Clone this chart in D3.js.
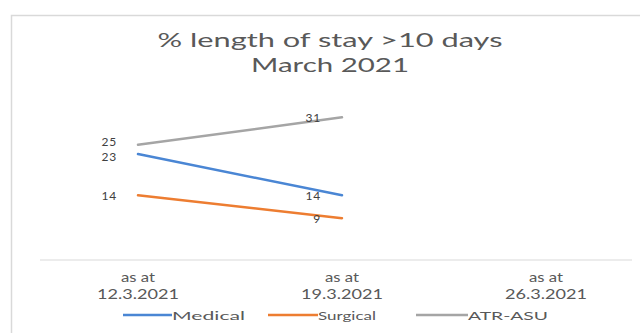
<!DOCTYPE html>
<html>
<head>
<meta charset="utf-8">
<script src="https://cdn.jsdelivr.net/npm/d3@7"></script>
<style>
  html, body { margin: 0; padding: 0; background: #fff; }
  svg { display: block; }
  text { font-family: Lato, "Open Sans", "DejaVu Sans", sans-serif; }
</style>
</head>
<body>
<svg id="chart" width="640" height="333"></svg>
<script>
// Weekly snapshots of % of patients with length of stay over 10 days
const categories = ["as at|12.3.2021", "as at|19.3.2021", "as at|26.3.2021"];
const medical  = [23, 14, null];
const surgical = [14, 9, null];
const atrAsu   = [25, 31, null];
const seriesNames  = ["Medical", "Surgical", "ATR-ASU"];
const seriesColors = ["#4a86d4", "#ed7d31", "#a5a5a5"];
const titleLines = ["% length of stay >10 days", "March 2021"];

const series = [medical, surgical, atrAsu].map((values, i) => ({
  name: seriesNames[i], color: seriesColors[i], values
}));

const svg = d3.select("#chart");
const W = 640, H = 333;

// chart frame
svg.append("rect")
  .attr("x", 11.5).attr("y", 15.5)
  .attr("width", W + 10).attr("height", H + 10)
  .attr("fill", "#fff").attr("stroke", "#d9d9d9").attr("stroke-width", 1.5);

// title
const title = svg.append("g");
title.append("text")
  .attr("x", 330).attr("y", 47)
  .attr("text-anchor", "middle")
  .attr("font-size", 20).attr("fill", "#595959")
  .attr("textLength", 345).attr("lengthAdjust", "spacingAndGlyphs")
  .text(titleLines[0]);
title.append("text")
  .attr("x", 330).attr("y", 72)
  .attr("text-anchor", "middle")
  .attr("font-size", 20).attr("fill", "#595959")
  .attr("textLength", 158).attr("lengthAdjust", "spacingAndGlyphs")
  .text(titleLines[1]);

// scales
const x = d3.scaleBand().domain(categories).range([36, 648]);
const y = d3.scaleLinear().domain([0, 35]).range([259.5, 99]);
const cx = c => x(c) + x.bandwidth() / 2;

// category axis
const xAxis = svg.append("g")
  .attr("transform", `translate(0,${y(0)})`)
  .call(d3.axisBottom(x).tickSize(0).tickPadding(0).tickFormat(""));
xAxis.select(".domain").attr("stroke", "#d9d9d9").attr("stroke-width", 1)
  .attr("d", `M40,0.5H632`);

const tickG = svg.append("g");
categories.forEach(c => {
  const [l1, l2] = c.split("|");
  tickG.append("text")
    .attr("x", cx(c)).attr("y", 282)
    .attr("text-anchor", "middle").attr("font-size", 12.5).attr("fill", "#595959")
    .attr("textLength", 34).attr("lengthAdjust", "spacingAndGlyphs")
    .text(l1);
  tickG.append("text")
    .attr("x", cx(c)).attr("y", 299)
    .attr("text-anchor", "middle").attr("font-size", 12.5).attr("fill", "#595959")
    .attr("textLength", 82).attr("lengthAdjust", "spacingAndGlyphs")
    .text(l2);
});

// lines
const line = d3.line()
  .defined(d => d.v != null)
  .x(d => cx(d.c))
  .y(d => y(d.v));

series.forEach(s => {
  const pts = categories.map((c, i) => ({ c, v: s.values[i] }));
  svg.append("path")
    .datum(pts)
    .attr("fill", "none")
    .attr("stroke", s.color)
    .attr("stroke-width", 2.5)
    .attr("stroke-linecap", "round")
    .attr("d", line);
});

// data labels, placed to the left of each point; labels that crowd each
// other within one category are spread apart vertically
const minGap = 15;
categories.forEach((c, i) => {
  const labels = series
    .filter(s => s.values[i] != null)
    .map(s => ({ v: s.values[i], cy: y(s.values[i]) }))
    .sort((a, b) => a.cy - b.cy);
  for (let k = 1; k < labels.length; k++) {
    const a = labels[k - 1], b = labels[k];
    const gap = b.cy - a.cy;
    if (gap < minGap) {
      const push = (minGap - gap) / 2;
      a.cy -= push;
      b.cy += push;
    }
  }
  labels.forEach(l => {
    svg.append("text")
      .attr("x", cx(c) - 21)
      .attr("y", l.cy + 4.5)
      .attr("text-anchor", "end")
      .attr("font-size", 12).attr("fill", "#404040")
      .attr("letter-spacing", 0.8)
      .text(l.v);
  });
});

// legend
const legendItems = [
  { x0: 123, x1: 172, tl: 73 },
  { x0: 268, x1: 318, tl: 58 },
  { x0: 416, x1: 468, tl: 80 }
];
const legend = svg.append("g");
series.forEach((s, i) => {
  const it = legendItems[i];
  legend.append("line")
    .attr("x1", it.x0).attr("x2", it.x1)
    .attr("y1", 315).attr("y2", 315)
    .attr("stroke", s.color).attr("stroke-width", 2.5);
  legend.append("text")
    .attr("x", it.x1).attr("y", 319.5)
    .attr("font-size", 12).attr("fill", "#595959")
    .attr("textLength", it.tl).attr("lengthAdjust", "spacingAndGlyphs")
    .text(s.name);
});
</script>
</body>
</html>
